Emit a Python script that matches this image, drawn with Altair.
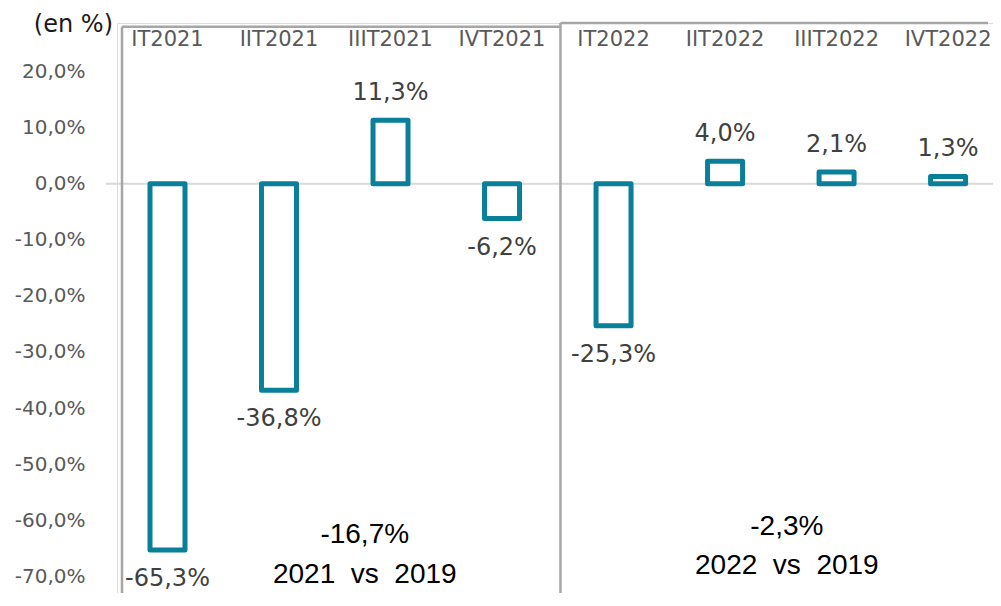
import altair as alt
import pandas as pd

# ---- data ----
quarters = ["IT2021", "IIT2021", "IIIT2021", "IVT2021", "IT2022", "IIT2022", "IIIT2022", "IVT2022"]
values = [-65.3, -36.8, 11.3, -6.2, -25.3, 4.0, 2.1, 1.3]
y_ticks = [-70, -60, -50, -40, -30, -20, -10, 0, 10, 20]
annual_values = ["-16,7%", "-2,3%"]
annual_labels = ["2021\u00a0\u00a0vs\u00a0\u00a02019", "2022\u00a0\u00a0vs\u00a0\u00a02019"]

# ---- layout constants ----
W, H = 876, 570
X_DOM = [-0.408, 7.358]
Y_DOM = [-72.97, 28.66]
SEP = 3.524          # boundary between the two year boxes (in bar-index units)
LEFT_TOP = 28.0
RIGHT_TOP = 28.66
ANN_X = [1.769, 5.554]
ANN_Y1 = [-62.6, -61.2]
ANN_Y2 = [-69.7, -68.1]

BAR = "#0a7f99"
GREY_TXT = "#595959"
FONT = "DejaVu Sans"

def fmt(v):
    return f"{v:.1f}".replace(".", ",") + "%"

df = pd.DataFrame({
    "q": quarters,
    "i": list(range(len(quarters))),
    "v": values,
    "label": [fmt(v) for v in values],
})

xs = alt.Scale(domain=X_DOM, nice=False, zero=False)
ys = alt.Scale(domain=Y_DOM, nice=False, zero=False)

yaxis = alt.Axis(
    values=y_ticks,
    labelExpr="(datum.value < 0 ? '-' : '') + replace(format(abs(datum.value), '.1f'), '.', ',') + '%'",
    domain=False, ticks=False, grid=False,
    labelFont=FONT, labelFontSize=20, labelColor=GREY_TXT,
    labelPadding=32, title=None,
)

def Y(field):
    return alt.Y(field, scale=ys, axis=yaxis)

def X(field):
    return alt.X(field, scale=xs, axis=None)

zero = alt.Chart(pd.DataFrame({"y": [0]})).mark_rule(color="#d9d9d9", strokeWidth=2).encode(
    y=Y("y:Q"),
    x=alt.value(-11), x2=alt.value(W),
)

frame_df = pd.DataFrame({
    "x1": [X_DOM[0], SEP, X_DOM[0], SEP],
    "x2": [X_DOM[0], SEP, SEP, X_DOM[1]],
    "y1": [LEFT_TOP, RIGHT_TOP, LEFT_TOP, RIGHT_TOP],
    "y2": [Y_DOM[0], Y_DOM[0], LEFT_TOP, RIGHT_TOP],
})
frame = alt.Chart(frame_df).mark_rule(color="#a6a6a6", strokeWidth=2.5).encode(
    x=X("x1:Q"), x2="x2:Q",
    y=Y("y1:Q"), y2="y2:Q",
)

bars = alt.Chart(df).mark_bar(
    orient="vertical", size=35, fill="white", stroke=BAR, strokeWidth=5, strokeJoin="round"
).encode(
    x=X("i:Q"),
    y=Y("v:Q"),
)

pos_lab = alt.Chart(df).transform_filter("datum.v >= 0").mark_text(
    font=FONT, fontSize=24, color="#404040", baseline="middle", dy=-27
).encode(x=X("i:Q"), y=Y("v:Q"), text="label:N")

neg_lab = alt.Chart(df).transform_filter("datum.v < 0").mark_text(
    font=FONT, fontSize=24, color="#404040", baseline="middle", dy=29
).encode(x=X("i:Q"), y=Y("v:Q"), text="label:N")

cats = alt.Chart(df).mark_text(
    font=FONT, fontSize=21, color=GREY_TXT, baseline="middle"
).encode(x=X("i:Q"), y=alt.value(17), text="q:N")

unit = alt.Chart(pd.DataFrame({"t": ["(en %)"]})).mark_text(
    font=FONT, fontSize=24, color="#1a1a1a", align="right", baseline="middle"
).encode(x=alt.value(-4), y=alt.value(2), text="t:N")

ann_df = pd.DataFrame({"x": ANN_X, "y1": ANN_Y1, "y2": ANN_Y2, "val": annual_values, "lab": annual_labels})
ann1 = alt.Chart(ann_df).mark_text(
    font="Liberation Sans", fontSize=28, color="black", baseline="middle"
).encode(x=X("x:Q"), y=Y("y1:Q"), text="val:N")
ann2 = alt.Chart(ann_df).mark_text(
    font="Liberation Sans", fontSize=28, color="black", baseline="middle"
).encode(x=X("x:Q"), y=Y("y2:Q"), text="lab:N")

chart = alt.layer(zero, frame, bars, pos_lab, neg_lab, cats, unit, ann1, ann2).properties(
    width=W, height=H,
    autosize=alt.AutoSizeParams(type="none"),
    padding={"left": 109, "top": 15, "right": 0, "bottom": 0},
).configure_view(stroke=None).configure(background="white")

chart.save("out.html", embed_options={"renderer": "svg", "actions": False})
